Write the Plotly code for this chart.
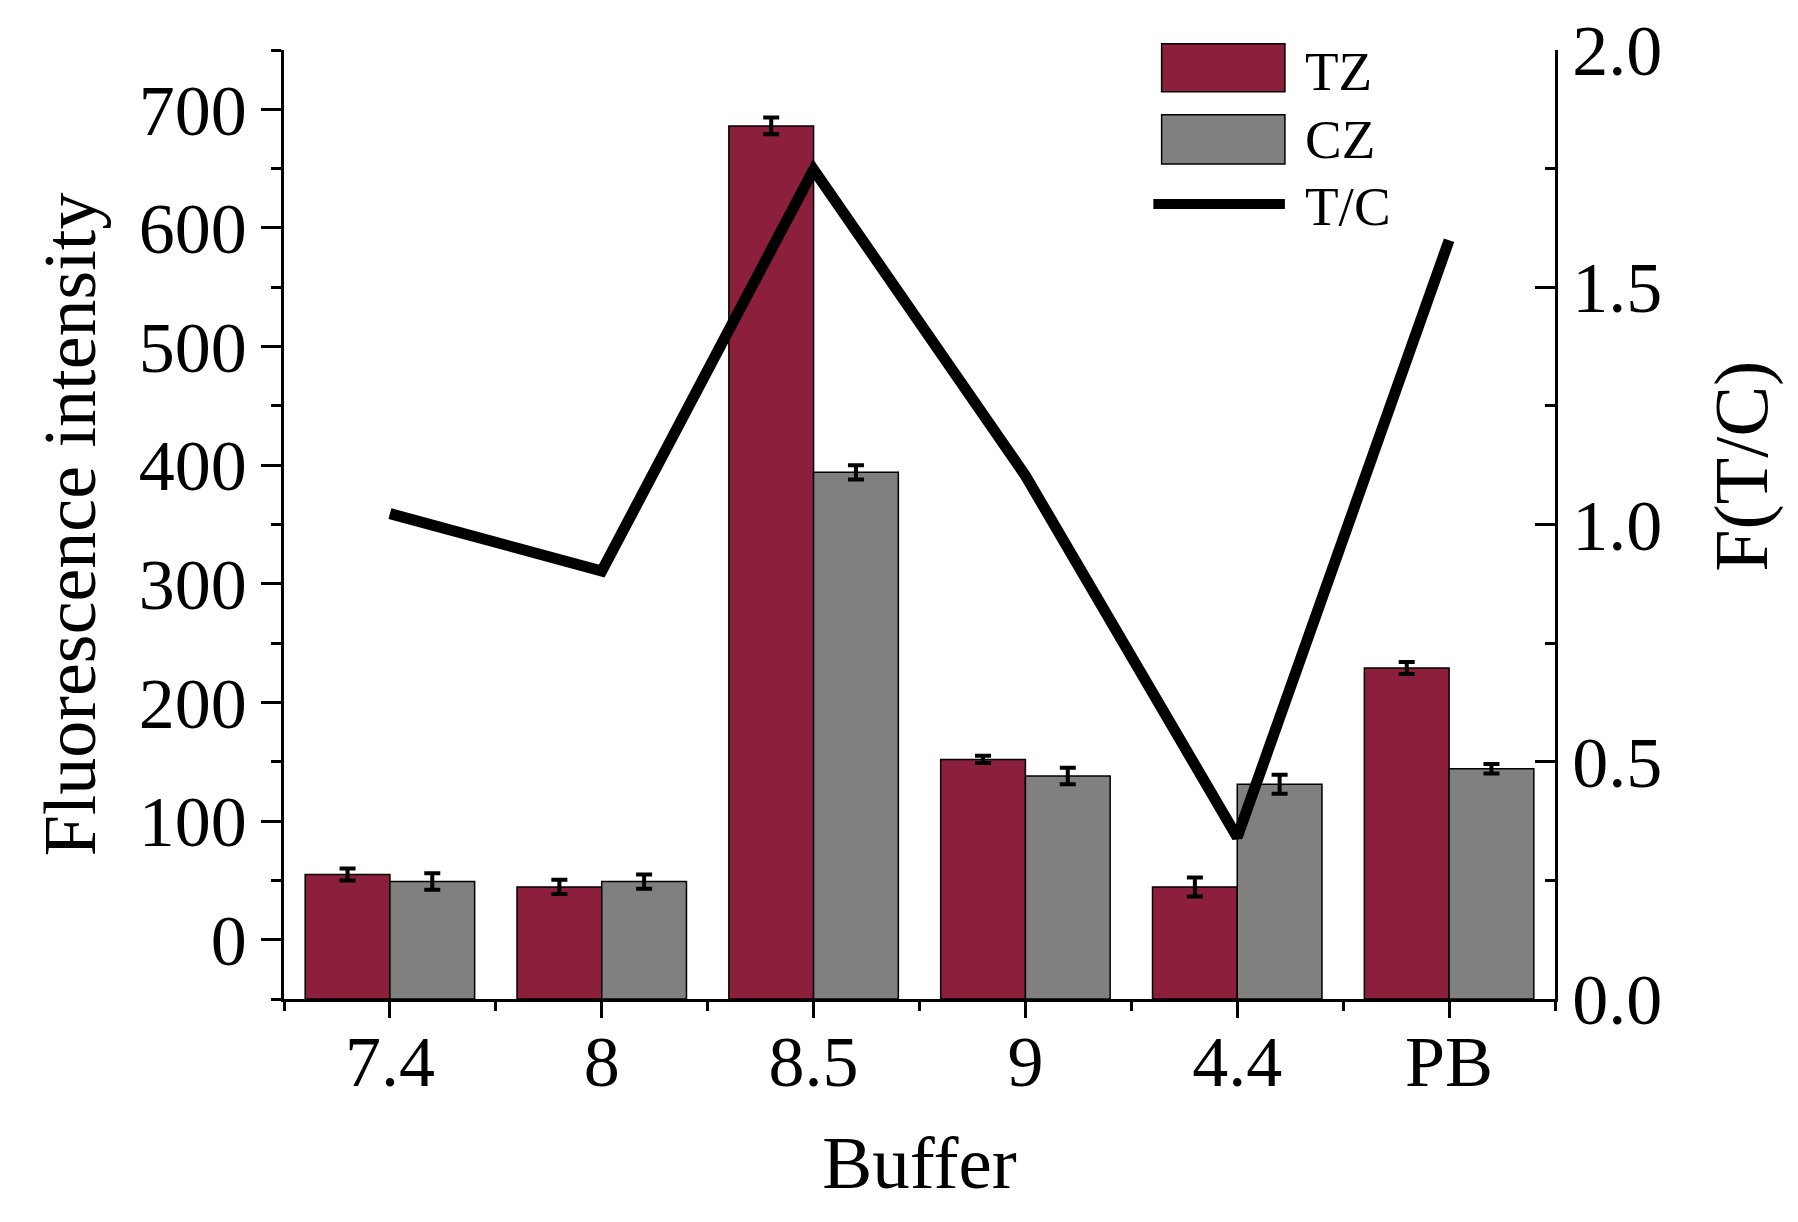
import plotly.graph_objects as go

# ---------------- data ----------------
categories = ["7.4", "8", "8.5", "9", "4.4", "PB"]
tz_values = [55, 44.5, 686, 152, 44.5, 229]
tz_errors = [5, 6, 7, 3, 8, 5]
cz_values = [49, 49, 394, 138, 131, 144]
cz_errors = [7, 6, 6, 7, 8, 4]
tc_ratio = [1.023, 0.902, 1.748, 1.103, 0.341, 1.599]

y_left_range = [-50, 750]
y_right_range = [0, 2.0]

FONT = "Liberation Serif"
TZ_COLOR = "#8C1F3B"
CZ_COLOR = "#808080"

x_idx = list(range(len(categories)))
base = y_left_range[0]

fig = go.Figure()

fig.add_trace(go.Bar(
    x=x_idx, y=[v - base for v in tz_values], base=base, name="TZ",
    marker=dict(color=TZ_COLOR, line=dict(color="black", width=1.5)),
    error_y=dict(type="data", array=tz_errors, color="black", thickness=4, width=8),
))
fig.add_trace(go.Bar(
    x=x_idx, y=[v - base for v in cz_values], base=base, name="CZ",
    marker=dict(color=CZ_COLOR, line=dict(color="black", width=1.5)),
    error_y=dict(type="data", array=cz_errors, color="black", thickness=4, width=8),
))
fig.add_trace(go.Scatter(
    x=x_idx, y=tc_ratio, name="T/C", mode="lines", yaxis="y2",
    line=dict(color="black", width=11),
))

axis_common = dict(
    showline=True, linecolor="black", linewidth=2.5, showgrid=False,
    zeroline=False, tickcolor="black", tickwidth=2.5, automargin=False,
    tickfont=dict(family=FONT, size=72, color="black"),
)

fig.update_layout(
    width=1798, height=1222, autosize=False,
    paper_bgcolor="white", plot_bgcolor="white",
    margin=dict(l=276, r=251, t=42, b=231),
    barmode="group", bargap=0.2, bargroupgap=0,
    showlegend=False,
    font=dict(family=FONT, color="black"),
    xaxis=dict(
        **axis_common,
        range=[-0.5, len(categories) - 0.5],
        tickmode="array", tickvals=x_idx, ticktext=categories,
        ticks="outside", ticklen=16, ticklabelstandoff=-18,
        minor=dict(tickmode="array",
                   tickvals=[i - 0.5 for i in range(len(categories) + 1)],
                   ticks="outside", ticklen=9, tickcolor="black", tickwidth=2.5),
        title=dict(text="Buffer", font=dict(family=FONT, size=75, color="black"), standoff=35),
    ),
    yaxis=dict(
        **axis_common,
        range=y_left_range, tick0=0, dtick=100,
        ticks="outside", ticklen=20,
        minor=dict(dtick=50, ticks="outside", ticklen=10, tickcolor="black", tickwidth=2.5),
        title=dict(text="Fluorescence intensity", font=dict(family=FONT, size=74, color="black"), standoff=19),
    ),
    yaxis2=dict(
        **axis_common,
        overlaying="y", side="right", anchor="x",
        range=y_right_range, tick0=0, dtick=0.5, tickformat=".1f",
        ticks="inside", ticklen=20,
        minor=dict(dtick=0.25, ticks="inside", ticklen=10, tickcolor="black", tickwidth=2.5),
    ),
)

# right axis title
fig.add_annotation(
    xref="paper", yref="paper", x=1.1472, y=0.561, text="F(T/C)", showarrow=False,
    textangle=-90, font=dict(family=FONT, size=76, color="black"),
    xanchor="center", yanchor="middle",
)

# custom legend
leg_x0, leg_x1 = 0.6905, 0.7875
fig.add_shape(type="rect", xref="paper", yref="paper", x0=leg_x0, x1=leg_x1, y0=0.956, y1=1.0067,
              fillcolor=TZ_COLOR, line=dict(color="black", width=1.5))
fig.add_shape(type="rect", xref="paper", yref="paper", x0=leg_x0, x1=leg_x1, y0=0.8798, y1=0.9318,
              fillcolor=CZ_COLOR, line=dict(color="black", width=1.5))
fig.add_shape(type="line", xref="paper", yref="paper", x0=0.684, x1=leg_x1, y0=0.8377, y1=0.8377,
              line=dict(color="black", width=10))
for label, yy in [("TZ", 0.9778), ("CZ", 0.9052), ("T/C", 0.8352)]:
    fig.add_annotation(xref="paper", yref="paper", x=0.8014, y=yy, text=label, showarrow=False,
                       xanchor="left", yanchor="middle",
                       font=dict(family=FONT, size=55, color="black"))

fig.write_html("out.html")
